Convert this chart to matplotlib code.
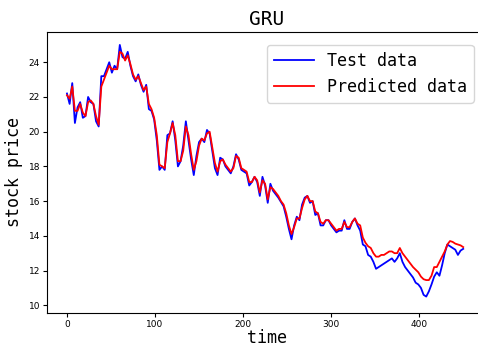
import numpy as np
import matplotlib
matplotlib.use("Agg")
import matplotlib.pyplot as plt

# sampled every 3 time steps
time_step = 3
test_data = [
    22.2, 21.6, 22.8, 20.5, 21.4, 21.7, 20.8, 20.9, 22.0, 21.7,
    21.6, 20.6, 20.3, 23.2, 23.2, 23.6, 24.0, 23.4, 23.8, 23.6,
    25.0, 24.3, 24.2, 24.6, 23.8, 23.2, 22.9, 23.3, 22.7, 22.3,
    22.7, 21.3, 21.2, 20.7, 19.5, 17.8, 18.0, 17.8, 19.8, 19.9,
    20.6, 19.5, 18.0, 18.3, 19.2, 20.6, 19.5, 18.4, 17.5, 18.6,
    19.4, 19.6, 19.4, 20.1, 19.9, 18.9, 17.9, 17.5, 18.5, 18.4,
    18.0, 17.8, 17.6, 18.0, 18.7, 18.4, 17.8, 17.7, 17.6, 16.9,
    17.1, 17.4, 17.1, 16.3, 17.4, 16.9, 15.9, 17.0, 16.6, 16.4,
    16.2, 15.95, 15.7, 15.1, 14.4, 13.8, 14.6, 15.1, 14.9, 15.8,
    16.2, 16.3, 15.9, 16.0, 15.2, 15.3, 14.6, 14.6, 14.9, 14.9,
    14.6, 14.4, 14.2, 14.3, 14.3, 14.9, 14.4, 14.4, 14.8, 15.0,
    14.6, 14.3, 13.5, 13.4, 12.9, 12.8, 12.5, 12.1, 12.2, 12.3,
    12.4, 12.5, 12.6, 12.7, 12.5, 12.7, 13.0, 12.5, 12.2, 12.0,
    11.8, 11.6, 11.3, 11.2, 11.0, 10.6, 10.5, 10.8, 11.2, 11.65,
    11.9, 11.7, 12.3, 13.0, 13.5, 13.4, 13.3, 13.2, 12.9, 13.15,
    13.25,
]
predicted_data = [
    22.1, 21.9, 22.6, 21.2, 21.2, 21.6, 21.1, 20.9, 21.7, 21.8,
    21.6, 20.9, 20.4, 22.6, 23.0, 23.4, 23.8, 23.6, 23.6, 23.6,
    24.6, 24.5, 24.1, 24.4, 23.9, 23.3, 23.0, 23.2, 22.8, 22.4,
    22.6, 21.6, 21.3, 20.8, 19.8, 18.1, 18.0, 17.9, 19.4, 19.9,
    20.5, 19.8, 18.3, 18.3, 18.9, 20.3, 19.8, 18.7, 17.8, 18.3,
    19.2, 19.6, 19.5, 19.9, 20.0, 19.1, 18.2, 17.7, 18.3, 18.4,
    18.1, 17.9, 17.7, 17.9, 18.6, 18.5, 17.9, 17.8, 17.7, 17.1,
    17.1, 17.4, 17.2, 16.5, 17.2, 17.0, 16.1, 16.8, 16.7, 16.5,
    16.3, 16.0, 15.8, 15.3, 14.6, 14.1, 14.5, 15.0, 15.0, 15.6,
    16.1, 16.3, 16.0, 16.0, 15.4, 15.3, 14.8, 14.7, 14.9, 14.9,
    14.7, 14.5, 14.3, 14.4, 14.4, 14.8, 14.5, 14.5, 14.8, 15.0,
    14.7, 14.6, 13.9, 13.6, 13.4, 13.3, 13.0, 12.8, 12.8, 12.9,
    12.9, 13.0, 13.1, 13.1, 13.0, 13.0, 13.3, 13.0, 12.8, 12.6,
    12.4, 12.2, 12.05, 11.9, 11.65, 11.5, 11.45, 11.45, 11.7, 12.2,
    12.2, 12.5, 12.8, 13.1, 13.5, 13.7, 13.65, 13.55, 13.5, 13.45,
    13.35,
]

t = np.arange(len(test_data)) * time_step

mono = 'DejaVu Sans Mono'

fig = plt.figure(figsize=(4.78, 3.47), dpi=100)
ax = fig.add_axes([0.0983, 0.0988, 0.9205, 0.8098])

ax.plot(t, test_data, color='blue', lw=1.3, label='Test data')
ax.plot(t, predicted_data, color='red', lw=1.3, label='Predicted data')

ax.set_xlim(-22.7, 477)
ax.set_ylim(9.57, 25.76)
ax.set_xticks([0, 100, 200, 300, 400])
ax.set_yticks([10, 12, 14, 16, 18, 20, 22, 24])
ax.tick_params(labelsize=6.5, length=3, pad=2)

ax.set_title('GRU', fontsize=14, family=mono, pad=5)
ax.set_xlabel('time', fontsize=12, family=mono, labelpad=0)
ax.set_ylabel('stock price', fontsize=12, family=mono, labelpad=4)

ax.legend(loc='upper right', prop={'family': mono, 'size': 12},
          handlelength=2.4, borderaxespad=0.8)

fig.savefig('out.png', dpi=100)
